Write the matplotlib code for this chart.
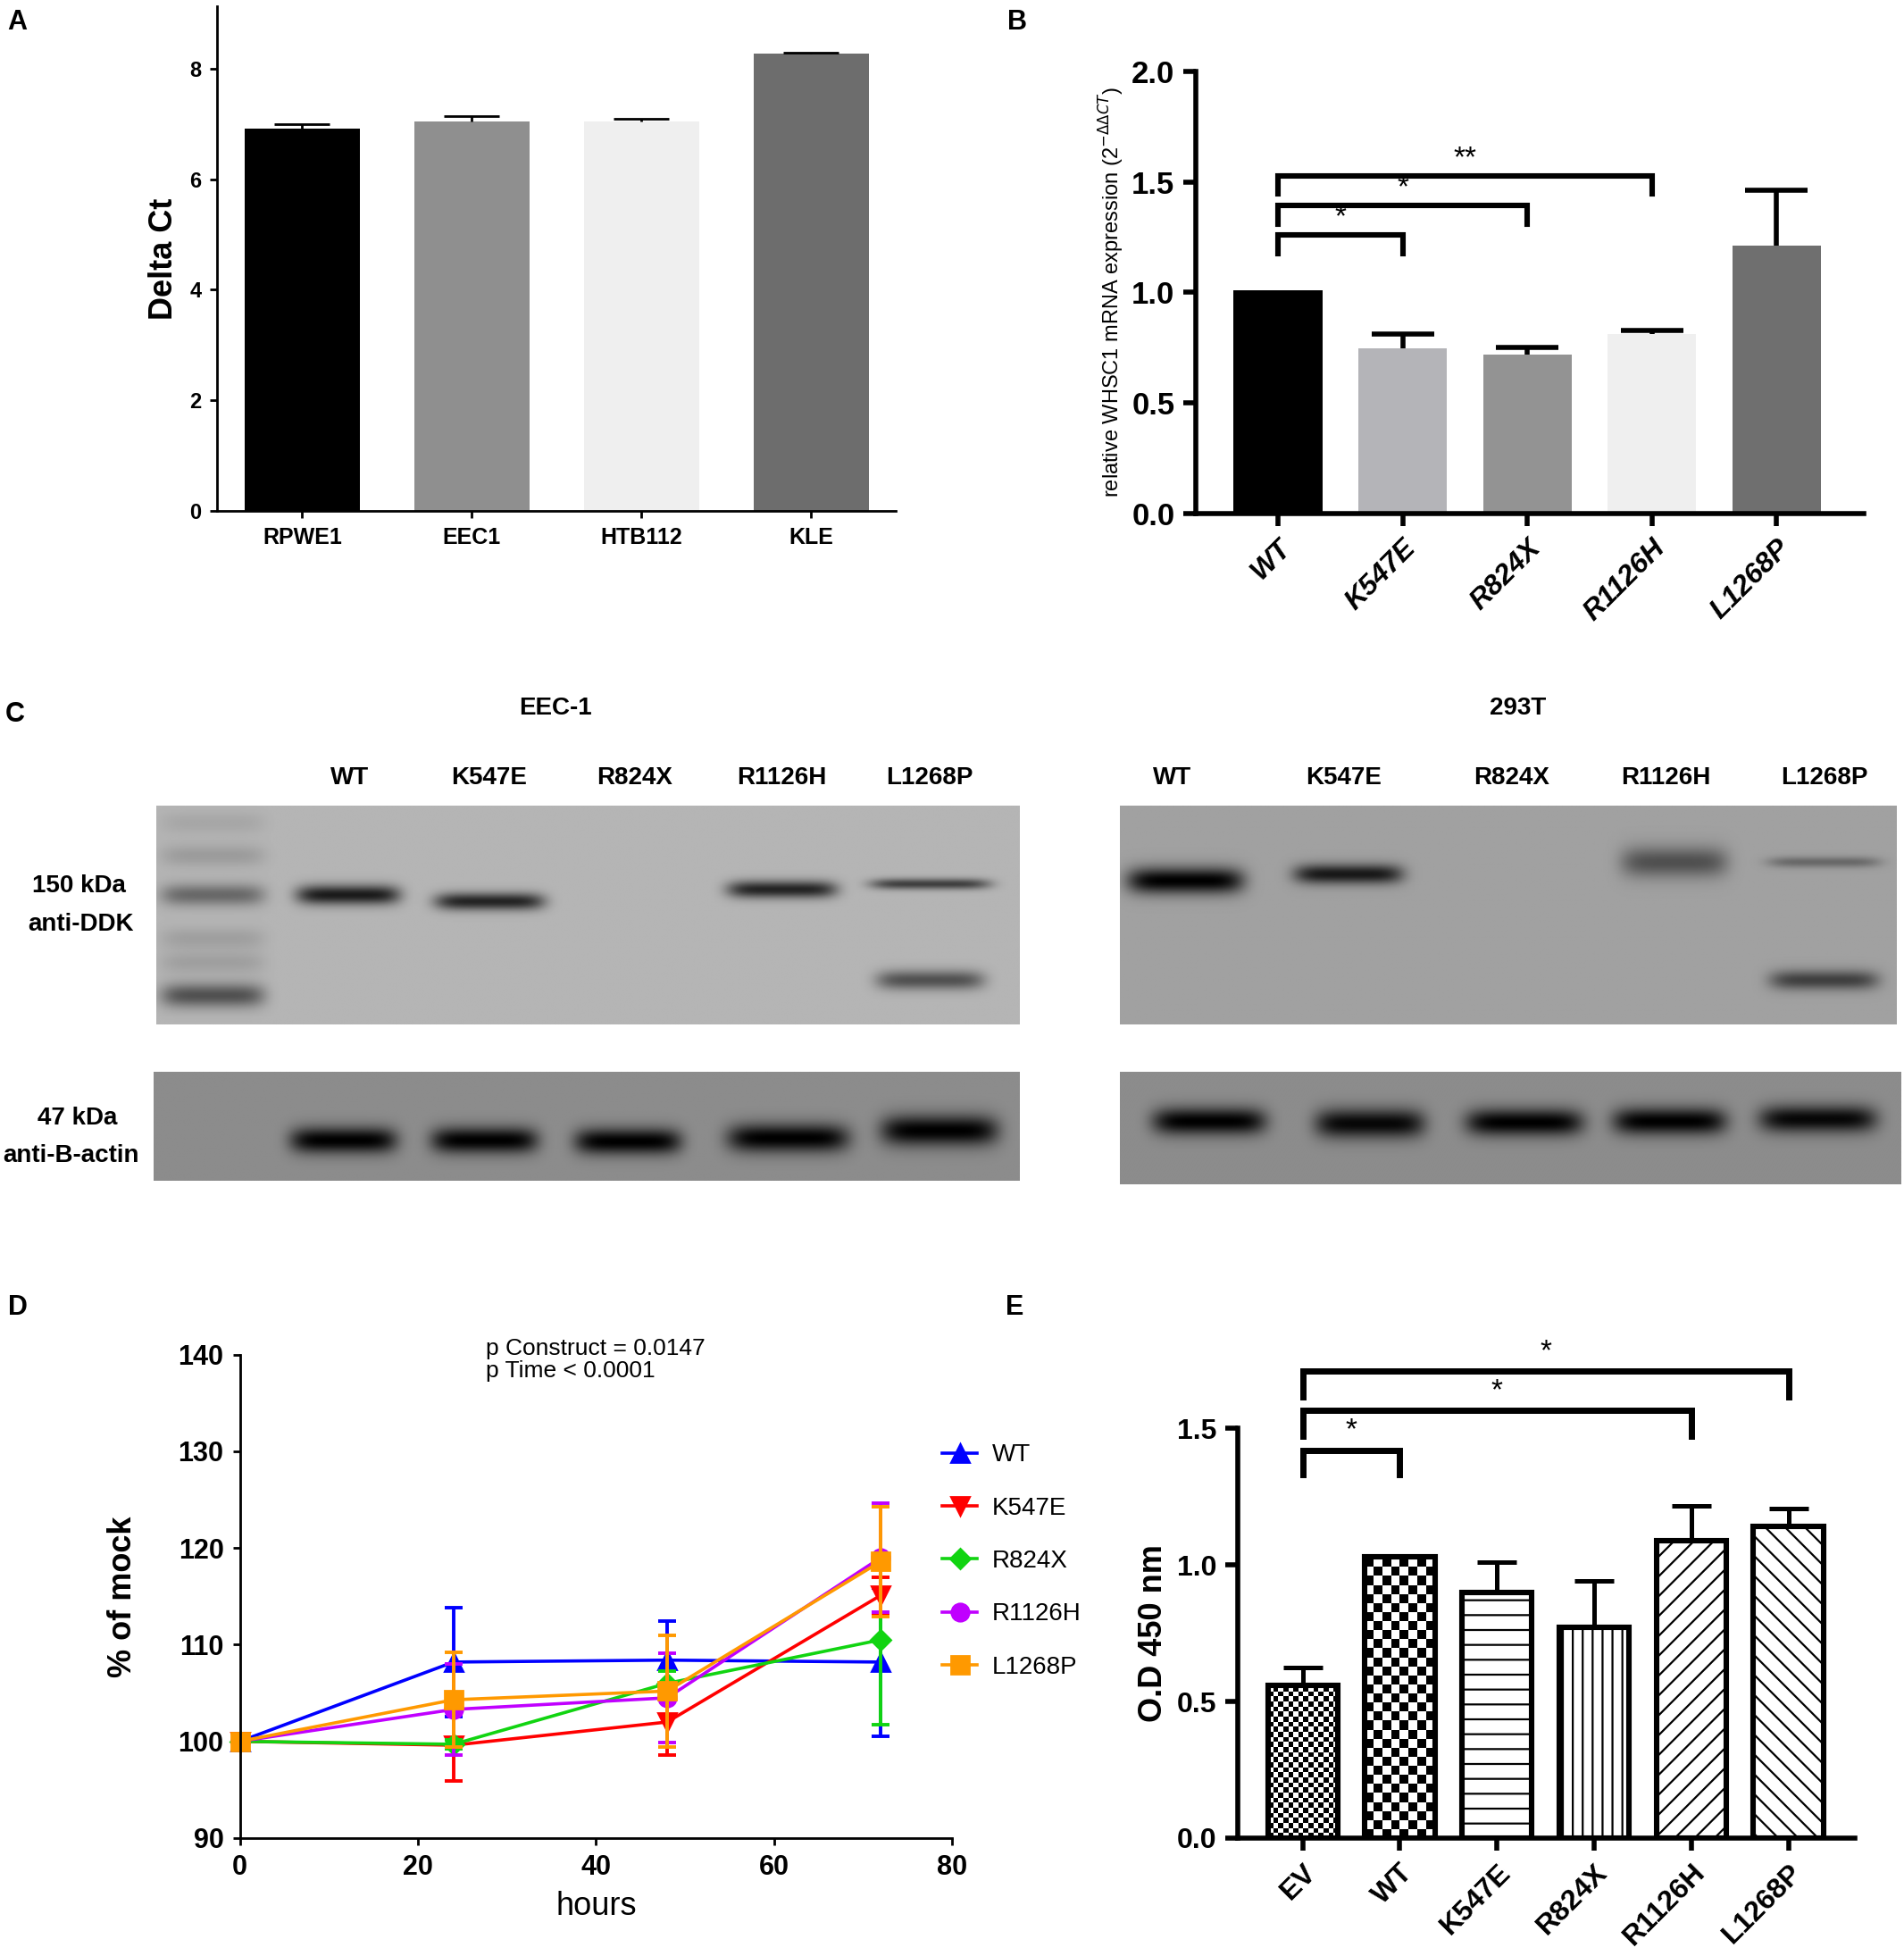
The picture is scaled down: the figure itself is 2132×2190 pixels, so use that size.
import numpy as np
import matplotlib
matplotlib.use("Agg")
import matplotlib.pyplot as plt

plt.rcParams["font.family"] = ["Liberation Sans", "DejaVu Sans"]
plt.rcParams["hatch.linewidth"] = 0.8
NARROW = ["Liberation Sans Narrow", "Liberation Sans", "DejaVu Sans"]

# ---- panel A data
a_cells = ["RPWE1", "EEC1", "HTB112", "KLE"]
a_delta_ct = [6.92, 7.05, 7.05, 8.27]
a_err = [0.08, 0.09, 0.05, 0.02]
a_colors = ["#000000", "#8f8f8f", "#efefef", "#6d6d6d"]

# ---- panel B data
b_constructs = ["WT", "K547E", "R824X", "R1126H", "L1268P"]
b_expr = [1.01, 0.746, 0.72, 0.81, 1.21]
b_err = [0.0, 0.065, 0.03, 0.02, 0.25]
b_colors = ["#000000", "#b4b4b8", "#939393", "#efefef", "#6f6f6f"]
b_brackets = [(0, 1, 1.26, 1.175, "*"), (0, 2, 1.395, 1.31, "*"), (0, 3, 1.525, 1.445, "**")]

# ---- panel C data (western blots): lane labels and band intensities
c_lanes = ["WT", "K547E", "R824X", "R1126H", "L1268P"]
# band: (lane centre, lane width, band y, band thickness, darkness) in blot fractions
eec_ddk_bands = [
    (0.065, 0.12, 0.08, 0.05, 0.08), (0.065, 0.12, 0.23, 0.05, 0.14),
    (0.065, 0.12, 0.41, 0.05, 0.42), (0.065, 0.12, 0.61, 0.05, 0.12),
    (0.065, 0.12, 0.72, 0.05, 0.12), (0.065, 0.12, 0.87, 0.055, 0.55),
    (0.222, 0.12, 0.41, 0.045, 0.85), (0.386, 0.127, 0.44, 0.04, 0.8),
    (0.725, 0.127, 0.385, 0.04, 0.8), (0.897, 0.139, 0.36, 0.025, 0.65),
    (0.897, 0.125, 0.80, 0.045, 0.55),
]
eec_actin_bands = [(0.219, 0.123, 0.63, 0.12, 1.0), (0.382, 0.123, 0.63, 0.12, 1.0),
                   (0.548, 0.123, 0.64, 0.12, 1.0), (0.733, 0.14, 0.61, 0.13, 1.0),
                   (0.908, 0.135, 0.54, 0.14, 1.0)]
t293_ddk_bands = [(0.084, 0.15, 0.345, 0.06, 1.0), (0.294, 0.14, 0.315, 0.045, 0.85),
                  (0.714, 0.137, 0.26, 0.07, 0.5), (0.907, 0.145, 0.26, 0.025, 0.35),
                  (0.907, 0.14, 0.80, 0.045, 0.6)]
t293_actin_bands = [(0.114, 0.145, 0.44, 0.12, 1.0), (0.32, 0.14, 0.46, 0.13, 0.95),
                    (0.518, 0.15, 0.45, 0.12, 1.0), (0.704, 0.145, 0.44, 0.12, 1.0),
                    (0.894, 0.15, 0.42, 0.12, 0.95)]

# ---- panel D data
d_hours = [0, 24, 48, 72]
d_names = ["WT", "K547E", "R824X", "R1126H", "L1268P"]
d_values = {
    "WT": [100, 108.2, 108.4, 108.2],
    "K547E": [100, 99.6, 102.0, 115.1],
    "R824X": [100, 99.7, 106.0, 110.5],
    "R1126H": [100, 103.3, 104.5, 119.0],
    "L1268P": [100, 104.3, 105.2, 118.6],
}
d_errors = {
    "WT": [0, 5.6, 4.0, 7.7],
    "K547E": [0, 3.7, 3.4, 1.9],
    "R824X": [0, 0.5, 1.3, 8.8],
    "R1126H": [0, 4.7, 4.6, 5.6],
    "L1268P": [0, 4.9, 5.8, 5.7],
}
d_colors = ["#0000ff", "#ff0000", "#11d411", "#c000ff", "#ff9900"]
d_markers = ["^", "v", "D", "o", "s"]

# ---- panel E data
e_constructs = ["EV", "WT", "K547E", "R824X", "R1126H", "L1268P"]
e_od = [0.558, 1.03, 0.90, 0.77, 1.09, 1.14]
e_err = [0.065, 0.0, 0.11, 0.17, 0.125, 0.065]
e_hatches = [None, None, "--", "|||", "///", "\\\\\\"]
e_checker = {0: (14, 0.0185), 1: (8, 0.033)}  # columns, cell height
e_brackets = [(0, 1, 1.42, 1.33), (0, 4, 1.565, 1.47), (0, 5, 1.71, 1.615)]

fig = plt.figure(figsize=(10.66, 10.95), dpi=200)


def fx(x):
    return x / 1524


def fy(y):
    return 1 - y / 1566


def up_errors(ax, xs, vals, errs, cap, lw, zorder=3):
    # error bars drawn upward only, with a cap at the top
    for x, v, e in zip(xs, vals, errs):
        if e <= 0:
            continue
        ax.vlines(x, v, v + e, color="black", lw=lw, zorder=zorder)
        ax.plot([x], [v + e], marker="_", ms=cap, mew=lw, color="black", zorder=zorder)


for letter, x, y in [("A", 14, 18), ("B", 814, 18), ("C", 12, 572), ("D", 14, 1047), ("E", 812, 1047)]:
    fig.text(fx(x), fy(y), letter, fontsize=11, fontweight="bold", ha="center", va="center")

# ================= A
ax = fig.add_axes([0.1142, 0.7388, 0.3563, 0.258])
xa = np.arange(len(a_cells))
ax.bar(xa, a_delta_ct, width=0.68, color=a_colors)
up_errors(ax, xa, a_delta_ct, a_err, cap=22, lw=1)
ax.set_xlim(-0.5, 3.5)
ax.set_ylim(0, 9.13)
ax.set_yticks([0, 2, 4, 6, 8])
ax.set_xticks(xa)
ax.set_xticklabels(a_cells, fontweight="bold", fontsize=9, family=NARROW)
for t in ax.get_yticklabels():
    t.set_fontweight("bold"); t.set_family(NARROW); t.set_fontsize(8.5)
ax.set_ylabel("Delta Ct", fontsize=13, fontweight="bold", labelpad=4)
for s in ["top", "right"]:
    ax.spines[s].set_visible(False)
for s in ["left", "bottom"]:
    ax.spines[s].set_linewidth(1)
ax.tick_params(width=1, length=3)

# ================= B
ax = fig.add_axes([0.628, 0.7374, 0.351, 0.2262])
xb = np.arange(len(b_constructs))
ax.bar(xb, b_expr, width=0.71, color=b_colors)
up_errors(ax, xb, b_expr, b_err, cap=25, lw=2)
for i, j, yb, yl, star in b_brackets:
    ax.plot([i, i, j, j], [yl, yb, yb, yl], color="black", lw=2.2, solid_joinstyle="miter")
    ax.text((i + j) / 2, yb + 0.015, star, ha="center", va="bottom", fontsize=12)
ax.set_xlim(-0.66, 4.7)
ax.set_ylim(0, 2.0)
ax.set_yticks([0, 0.5, 1.0, 1.5, 2.0])
ax.set_yticklabels(["0.0", "0.5", "1.0", "1.5", "2.0"], fontweight="bold", fontsize=12.5, family=NARROW)
ax.set_xticks(xb)
ax.set_xticklabels(b_constructs, rotation=45, ha="right", rotation_mode="anchor",
                   fontweight="bold", style="italic", fontsize=11.5)
ax.set_ylabel("relative WHSC1 mRNA expression (2$^{-\\Delta\\Delta CT}$)", fontsize=8.5, labelpad=2)
for s in ["top", "right"]:
    ax.spines[s].set_visible(False)
for s in ["left", "bottom"]:
    ax.spines[s].set_linewidth(2)
ax.tick_params(width=2, length=5)


# ================= C
def blot_image(bg, bands, nx=700, ny=180):
    X, Y = np.meshgrid(np.linspace(0, 1, nx), np.linspace(0, 1, ny))
    dark = np.zeros_like(X)
    for cx, w, cy, h, k in bands:
        dark += k * np.exp(-np.abs((X - cx) / (w / 2)) ** 6) * np.exp(-((Y - cy) / h) ** 2)
    return bg * (1 - np.clip(dark, 0, 1))


blots = [
    ([0.0820, 0.4762, 0.4535, 0.1119], 0.71, eec_ddk_bands),
    ([0.0807, 0.3963, 0.4548, 0.0557], 0.55, eec_actin_bands),
    ([0.5880, 0.4762, 0.4080, 0.1119], 0.63, t293_ddk_bands),
    ([0.5880, 0.3945, 0.4100, 0.0575], 0.55, t293_actin_bands),
]
blot_axes = []
for pos, bg, bands in blots:
    bax = fig.add_axes(pos)
    bax.imshow(blot_image(bg, bands), cmap="gray", vmin=0, vmax=1,
               extent=[0, 1, 1, 0], aspect="auto", interpolation="bilinear")
    bax.set_xlim(0, 1); bax.set_ylim(1, 0)
    bax.axis("off")
    blot_axes.append(bax)

eec_label_x = [0.224, 0.386, 0.554, 0.725, 0.896]
t293_label_x = [0.068, 0.288, 0.505, 0.703, 0.907]
for bax, xs, title, tx in [(blot_axes[0], eec_label_x, "EEC-1", 0.462),
                           (blot_axes[2], t293_label_x, "293T", 0.513)]:
    for lx, lab in zip(xs, c_lanes):
        bax.text(lx, 1.126, lab, ha="center", va="center", fontsize=10,
                 fontweight="bold", family=NARROW, transform=bax.transAxes)
    bax.text(tx, 1.446, title, ha="center", va="center", fontsize=10,
             fontweight="bold", family=NARROW, transform=bax.transAxes)

for txt, x, y in [("150 kDa", 63, 709), ("anti-DDK", 65, 740), ("47 kDa", 62, 895), ("anti-B-actin", 57, 925)]:
    fig.text(fx(x), fy(y), txt, ha="center", va="center", fontsize=10, fontweight="bold", family=NARROW)

# ================= D
ax = fig.add_axes([0.126, 0.0603, 0.374, 0.2472])
handles = []
for name, c, m in zip(d_names, d_colors, d_markers):
    ax.errorbar(d_hours, d_values[name], yerr=d_errors[name], fmt="none", ecolor=c,
                capsize=3.5, elinewidth=1.4, capthick=1.4, clip_on=False)
    h, = ax.plot(d_hours, d_values[name], marker=m, color=c, lw=1.3,
                 ms=7 if m != "D" else 5.5, label=name, clip_on=False)
    handles.append(h)
ax.set_xlim(0, 80)
ax.set_ylim(90, 140)
ax.set_xticks([0, 20, 40, 60, 80])
ax.set_yticks([90, 100, 110, 120, 130, 140])
for t in ax.get_xticklabels() + ax.get_yticklabels():
    t.set_fontweight("bold"); t.set_family(NARROW); t.set_fontsize(11)
ax.set_xlabel("hours", fontsize=13, family=NARROW)
ax.set_ylabel("% of mock", fontsize=13, fontweight="bold", labelpad=16)
ax.text(0.345, 1.035, "p Construct = 0.0147\np Time < 0.0001", transform=ax.transAxes,
        fontsize=9.5, family=NARROW, va="top", linespacing=1.05)
for s in ["top", "right"]:
    ax.spines[s].set_visible(False)
for s in ["left", "bottom"]:
    ax.spines[s].set_linewidth(1)
ax.tick_params(width=1, length=3)
leg = ax.legend(handles=handles, loc="upper left", bbox_to_anchor=(0.955, 0.862), frameon=False,
                prop={"family": NARROW, "size": 10}, labelspacing=1.2, handlelength=1.4,
                handletextpad=0.6)

# ================= E
ax = fig.add_axes([0.650, 0.0603, 0.324, 0.2095])
xe = np.arange(len(e_constructs))
width = 0.72
bars = ax.bar(xe, e_od, width=width, facecolor="white", edgecolor="black", lw=2.2, zorder=2)
for idx, (b, h) in enumerate(zip(bars, e_hatches)):
    if h:
        b.set_hatch(h)
    if idx in e_checker:
        b.set_facecolor("none")
# checkerboard fills for EV and WT
for idx, (ncol, cell) in e_checker.items():
    nrow = int(np.ceil(e_od[idx] / cell))
    checker = (np.add.outer(np.arange(nrow), np.arange(ncol)) % 2).astype(float)
    im = ax.imshow(checker, cmap="gray", vmin=0, vmax=1, interpolation="nearest",
                   extent=[idx - width / 2, idx + width / 2, 0, nrow * cell],
                   aspect="auto", zorder=1, origin="lower")
    im.set_clip_path(bars[idx])
up_errors(ax, xe, e_od, e_err, cap=16, lw=1.8, zorder=1.5)
for i, j, yb, yl in e_brackets:
    ax.plot([i, i, j, j], [yl, yb, yb, yl], color="black", lw=2.5, clip_on=False,
            solid_joinstyle="miter")
    ax.text((i + j) / 2, yb + 0.02, "*", ha="center", va="bottom", fontsize=12)
ax.set_xlim(-0.67, 5.68)
ax.set_ylim(0, 1.5)
ax.set_yticks([0, 0.5, 1.0, 1.5])
ax.set_yticklabels(["0.0", "0.5", "1.0", "1.5"], fontweight="bold", fontsize=11.5, family=NARROW)
ax.set_xticks(xe)
ax.set_xticklabels(e_constructs, rotation=45, ha="right", rotation_mode="anchor",
                   fontweight="bold", fontsize=11.5)
ax.set_ylabel("O.D 450 nm", fontsize=13, fontweight="bold", labelpad=3)
for s in ["top", "right"]:
    ax.spines[s].set_visible(False)
for s in ["left", "bottom"]:
    ax.spines[s].set_linewidth(2)
ax.tick_params(width=2, length=5)

fig.savefig("out.png", dpi=200)
